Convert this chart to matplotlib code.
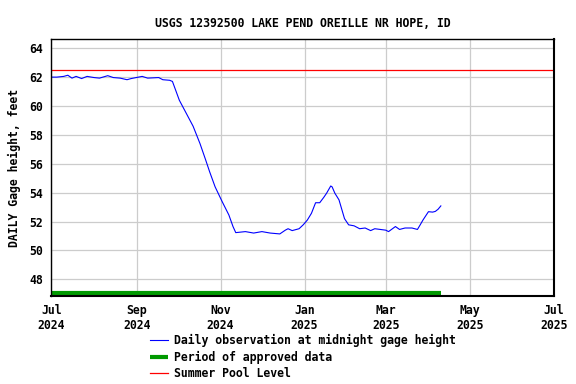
import numpy as np
import pandas as pd
import matplotlib
matplotlib.use("Agg")
import matplotlib.pyplot as plt
import matplotlib.dates as mdates

# days since 2024-07-01 and daily gage height (ft)
day_offset = [0, 4, 9, 12, 15, 18, 22, 26, 31, 35, 41, 45, 50, 55, 58, 66, 70, 78, 81, 86,
              88, 93, 98, 103, 108, 112, 115, 119, 124, 129, 132, 134, 141, 147, 153, 159,
              166, 170, 172, 175, 180, 183, 186, 189, 192, 195, 198, 200, 203, 204, 206,
              209, 211, 213, 216, 220, 224, 228, 232, 235, 239, 243, 245, 250, 253, 257,
              262, 266, 268, 270, 274, 277, 279, 281, 283]
gage_height = [62.0, 62.0, 62.05, 62.13, 61.93, 62.05, 61.9, 62.05, 61.97, 61.93, 62.1,
               61.97, 61.93, 61.82, 61.9, 62.05, 61.93, 61.97, 61.82, 61.78,
               61.7, 60.4, 59.5, 58.6, 57.4, 56.3, 55.45, 54.4, 53.4, 52.45, 51.65, 51.23,
               51.3, 51.2, 51.3, 51.2, 51.14, 51.4, 51.5, 51.37, 51.5, 51.77, 52.1, 52.57,
               53.3, 53.3, 53.68, 53.96, 54.46, 54.4, 53.96, 53.5, 52.85, 52.2, 51.77,
               51.7, 51.5, 51.55, 51.37, 51.5, 51.45, 51.4, 51.3, 51.65, 51.45, 51.55,
               51.55, 51.45, 51.77, 52.1, 52.68, 52.65, 52.7, 52.85, 53.08]

start = pd.Timestamp("2024-07-01")
dates = start + pd.to_timedelta(day_offset, unit="D")

summer_pool = 62.5
approved_start = "2024-07-01"
approved_end = "2025-04-10"
approved_level = 47.07

tick_dates = pd.date_range("2024-07-01", "2025-07-01", freq="2MS")

plt.rcParams['font.family'] = ['DejaVu Sans Mono']
plt.rcParams['font.weight'] = 'bold'
fs = 8.3

fig = plt.figure(figsize=(5.76, 3.84), dpi=100)
ax = fig.add_axes([0.0891, 0.2299, 0.8722, 0.6678])

ax.plot(dates, gage_height, color="#0000ff", lw=0.8,
        label="Daily observation at midnight gage height")
ax.plot(pd.to_datetime([approved_start, approved_end]), [approved_level, approved_level],
        color="#009900", lw=3.0, solid_capstyle="butt", label="Period of approved data")
ax.axhline(summer_pool, color="#ff0000", lw=0.9, label="Summer Pool Level")

ax.set_xlim(pd.Timestamp("2024-07-01"), pd.Timestamp("2025-07-01"))
ax.set_ylim(46.86, 64.62)
ax.set_yticks(np.arange(48, 65, 2))
ax.set_xticks(tick_dates)
ax.xaxis.set_major_formatter(mdates.DateFormatter("%b\n%Y"))
ax.grid(True, color="#cccccc", lw=0.9)
ax.set_axisbelow(True)
ax.tick_params(length=0, labelsize=fs, pad=6)
for lab in ax.get_xticklabels() + ax.get_yticklabels():
    lab.set_fontweight("bold")
for sp in ax.spines.values():
    sp.set_linewidth(1.0)
ax.spines["right"].set_linewidth(1.5)
ax.spines["bottom"].set_linewidth(1.5)

ax.set_title("USGS 12392500 LAKE PEND OREILLE NR HOPE, ID", fontsize=fs,
             fontweight="bold", pad=9)
ax.set_ylabel("DAILY Gage height, feet", fontsize=fs, fontweight="bold", labelpad=6)

fig.legend(loc="upper left", bbox_to_anchor=(150 / 576, 1 - 334 / 384), frameon=False,
           fontsize=fs, handlelength=1.6, handletextpad=0.45, labelspacing=0.3,
           borderpad=0, borderaxespad=0)

fig.savefig("out.png", dpi=100)
